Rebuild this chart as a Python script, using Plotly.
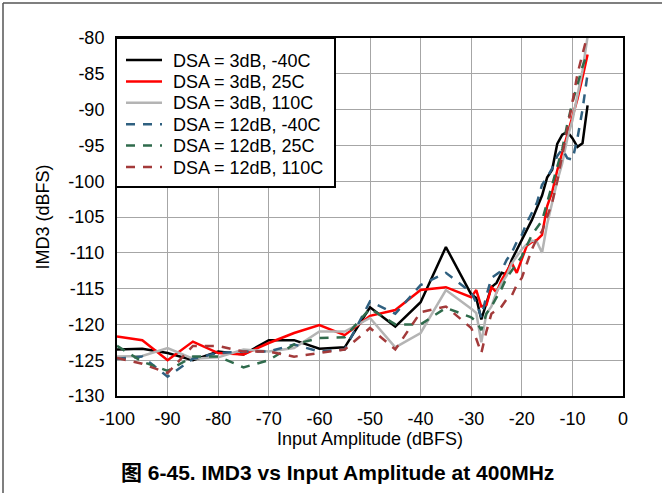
import plotly.graph_objects as go

x_vals = [-100, -95, -90, -85, -80, -75, -70, -65, -60, -55, -50, -45, -40, -35,
          -30, -29, -28, -27, -26, -25, -24, -23, -22, -21, -20, -19, -18, -17,
          -16, -15, -14, -13, -12, -11, -10, -9, -8, -7]

dsa3_m40 = [-123.5, -123.4, -124.0, -125.0, -123.8, -124.2, -122.2, -122.2, -123.4, -123.2,
            -117.6, -120.3, -116.9, -109.2,
            -115.8, -116.3, -119.3, -117.0, -114.8, -114.2, -112.8, -113.0, -111.0, -109.6,
            -108.3, -106.8, -105.4, -103.8, -102.0, -99.5, -98.4, -94.8, -93.5, -93.1,
            -94.0, -95.2, -94.7, -89.4]

dsa3_25 = [-121.7, -122.2, -125.0, -122.4, -124.0, -124.2, -122.6, -121.2, -120.1, -121.5,
           -118.8, -118.0, -115.2, -114.8,
           -116.2, -115.2, -117.5, -117.3, -114.8, -115.5, -113.8, -112.5, -111.4, -112.8,
           -110.8, -109.0, -108.5, -108.2, -107.5, -103.5, -101.5, -98.5, -96.0, -93.5,
           -91.0, -88.5, -85.5, -82.3]

dsa3_110 = [-124.5, -124.4, -123.3, -124.8, -124.6, -123.5, -123.8, -123.3, -121.0, -121.0,
            -119.1, -123.2, -121.2, -115.2,
            -117.8, -118.4, -122.5, -118.5, -117.5, -115.5, -114.3, -113.2, -111.5, -110.5,
            -109.5, -108.8, -108.3, -108.5, -110.0, -106.0, -103.0, -100.0, -97.5, -94.0,
            -91.5, -88.0, -84.5, -79.8]

dsa12_m40 = [-124.8, -124.5, -127.3, -124.8, -124.0, -123.8, -123.8, -122.8, -123.8, -123.5,
             -116.8, -118.5, -114.5, -112.8,
             -115.5, -117.0, -119.0, -116.0, -113.5, -113.0, -112.5, -111.0, -110.0, -108.5,
             -107.5, -105.8, -104.5, -103.0, -100.5, -99.5, -98.2, -96.5, -95.5, -96.8,
             -97.0, -94.0, -90.0, -85.0]

dsa12_25 = [-123.0, -125.2, -126.5, -124.5, -124.5, -126.0, -125.0, -122.8, -121.9, -121.8,
            -117.8, -120.0, -120.0, -117.7,
            -119.0, -119.6, -120.8, -118.5, -117.5, -116.3, -115.0, -113.5, -112.5, -111.5,
            -110.5, -109.0, -107.5, -106.5, -105.5, -103.0, -100.5, -98.0, -95.5, -92.0,
            -89.0, -86.5, -84.0, -82.0]

dsa12_110 = [-124.7, -125.5, -126.8, -123.0, -123.0, -123.8, -123.8, -124.5, -124.0, -123.5,
             -120.5, -123.5, -118.3, -117.5,
             -120.5, -122.0, -124.0, -121.0, -118.5, -118.0, -117.5, -116.5, -116.0, -114.5,
             -113.5, -111.5, -109.5, -108.0, -107.0, -105.0, -103.0, -100.0, -96.5, -93.0,
             -89.0, -85.0, -82.0, -79.5]

series_names = ["DSA = 3dB, -40C", "DSA = 3dB, 25C", "DSA = 3dB, 110C",
                "DSA = 12dB, -40C", "DSA = 12dB, 25C", "DSA = 12dB, 110C"]
series_data = [dsa3_m40, dsa3_25, dsa3_110, dsa12_m40, dsa12_25, dsa12_110]
colors = ["#000000", "#FF0000", "#B4B4B4", "#2F6080", "#2F6B4C", "#A33A3A"]
dashes = ["solid", "solid", "solid", "9px,8px", "9px,8px", "9px,8px"]

x_ticks = [-100, -90, -80, -70, -60, -50, -40, -30, -20, -10, 0]
y_ticks = [-130, -125, -120, -115, -110, -105, -100, -95, -90, -85, -80]

FONT = "Liberation Sans, Arial, Noto Sans CJK SC, sans-serif"

fig = go.Figure()
for name, ys, c, d in zip(series_names, series_data, colors, dashes):
    fig.add_trace(go.Scatter(x=x_vals, y=ys, mode="lines", name=name,
                             line=dict(color=c, width=2.5, dash=d), showlegend=False))

L, R, T, B = 117, 39, 38, 97
W, H = 662, 493
pw, ph = W - L - R, H - T - B


def px(xp):
    return (xp - L) / pw


def py(yp):
    return (H - B - yp) / ph


shapes = [
    dict(type="line", xref="paper", yref="paper", x0=px(3), y0=py(493), x1=px(3), y1=py(3),
         line=dict(color="#555555", width=1.5)),
    dict(type="line", xref="paper", yref="paper", x0=px(3), y0=py(3), x1=px(662), y1=py(3),
         line=dict(color="#555555", width=1.5)),
    # legend box
    dict(type="rect", xref="paper", yref="paper", x0=px(116), y0=py(187), x1=px(335), y1=py(38),
         fillcolor="white", line=dict(color="black", width=2), layer="above"),
]
annotations = []
row0, step = 60.0, 21.4
for i, (name, c, d) in enumerate(zip(series_names, colors, dashes)):
    yc = row0 + step * i
    shapes.append(dict(type="line", xref="paper", yref="paper",
                       x0=px(126), x1=px(162), y0=py(yc), y1=py(yc),
                       line=dict(color=c, width=2.5, dash=d), layer="above"))
    annotations.append(dict(text=name, xref="paper", yref="paper", x=px(171), y=py(yc + 0.5),
                            xanchor="left", yanchor="middle", showarrow=False,
                            font=dict(family=FONT, size=18, color="black")))

annotations.append(dict(text="<b>图 6-45. IMD3 vs Input Amplitude at 400MHz</b>",
                        xref="paper", yref="paper", x=px(337), y=py(473),
                        xanchor="center", yanchor="middle", showarrow=False,
                        font=dict(family=FONT, size=21, color="black")))

fig.update_layout(
    width=W, height=H,
    margin=dict(l=L, r=R, t=T, b=B, pad=0),
    paper_bgcolor="white", plot_bgcolor="white",
    font=dict(family=FONT, size=18, color="black"),
    showlegend=False,
    xaxis=dict(range=[-100, 0], tickvals=x_ticks, ticktext=[str(v) for v in x_ticks],
               showgrid=True, gridcolor="#A6A6A6", gridwidth=1,
               showline=True, linecolor="black", linewidth=2, mirror=True,
               ticks="", zeroline=False, ticklabelstandoff=5,
               tickfont=dict(family=FONT, size=18),
               title=dict(text="Input Amplitude (dBFS)", standoff=2,
                          font=dict(family=FONT, size=18))),
    yaxis=dict(range=[-130, -80], tickvals=y_ticks, ticktext=[str(v) for v in y_ticks],
               showgrid=True, gridcolor="#A6A6A6", gridwidth=1,
               showline=True, linecolor="black", linewidth=2, mirror=True,
               ticks="", zeroline=False, ticklabelstandoff=7,
               tickfont=dict(family=FONT, size=18),
               title=dict(text="IMD3 (dBFS)", standoff=14,
                          font=dict(family=FONT, size=18))),
    annotations=annotations,
    shapes=shapes,
)

fig.write_html("out.html", config={"displayModeBar": False},
               post_script="document.body.style.margin='0';")
